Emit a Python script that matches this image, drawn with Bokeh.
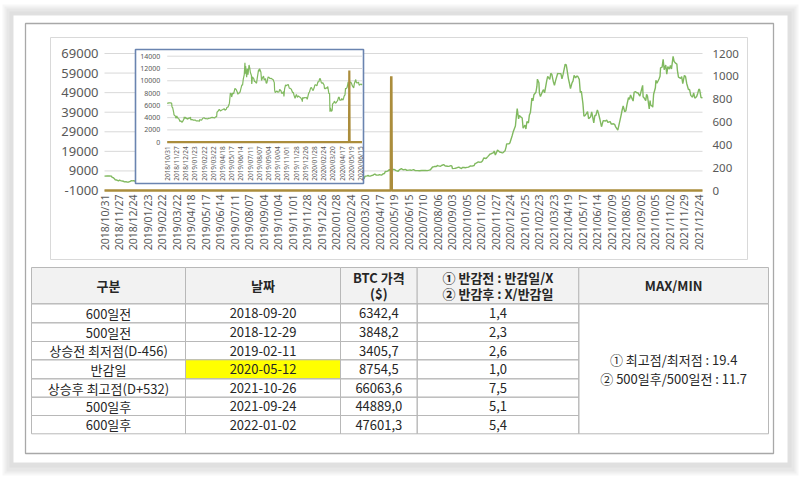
import numpy as np
import pandas as pd
from bokeh.plotting import figure
from bokeh.models import Range1d, ColumnDataSource
from bokeh.embed import file_html
from bokeh.resources import INLINE
from bokeh.core.properties import value

# ---------------- data ----------------
x_tick_labels = ["2018/10/31", "2018/11/27", "2018/12/24", "2019/01/23", "2019/02/22", "2019/03/22",
                 "2019/04/18", "2019/05/17", "2019/06/14", "2019/07/11", "2019/08/07", "2019/09/04",
                 "2019/10/04", "2019/11/01", "2019/11/28", "2019/12/26", "2020/01/28", "2020/02/24",
                 "2020/03/20", "2020/04/17", "2020/05/19", "2020/06/15", "2020/07/10", "2020/08/06",
                 "2020/09/03", "2020/10/05", "2020/11/02", "2020/11/27", "2020/12/24", "2021/01/25",
                 "2021/02/23", "2021/03/23", "2021/04/19", "2021/05/17", "2021/06/14", "2021/07/09",
                 "2021/08/05", "2021/09/02", "2021/10/05", "2021/11/02", "2021/11/29", "2021/12/24"]
inset_tick_count = 22
y_ticks_left = [-1000, 9000, 19000, 29000, 39000, 49000, 59000, 69000]
y_ticks_right = [0, 200, 400, 600, 800, 1000, 1200]
inset_y_ticks = [0, 2000, 4000, 6000, 8000, 10000, 12000, 14000]
INSET_END = "2020-06-19"

price_dates = [
    "2018-10-31", "2018-11-05", "2018-11-09", "2018-11-13", "2018-11-14", "2018-11-16", "2018-11-19",
    "2018-11-20", "2018-11-22", "2018-11-23", "2018-11-26", "2018-11-28", "2018-11-30", "2018-12-03",
    "2018-12-05", "2018-12-07", "2018-12-10", "2018-12-13", "2018-12-14", "2018-12-17", "2018-12-19",
    "2018-12-20", "2018-12-21", "2018-12-24", "2018-12-26", "2018-12-28", "2018-12-31",
    "2019-01-02", "2019-01-04", "2019-01-07", "2019-01-09", "2019-01-10", "2019-01-14", "2019-01-18",
    "2019-01-22", "2019-01-25", "2019-01-28", "2019-01-31", "2019-02-04", "2019-02-07", "2019-02-08",
    "2019-02-11", "2019-02-14", "2019-02-18", "2019-02-20", "2019-02-22", "2019-02-25", "2019-02-28",
    "2019-03-04", "2019-03-08", "2019-03-12", "2019-03-15", "2019-03-19", "2019-03-22", "2019-03-26",
    "2019-03-29", "2019-04-01", "2019-04-02", "2019-04-05", "2019-04-08", "2019-04-10", "2019-04-12",
    "2019-04-16", "2019-04-18", "2019-04-22", "2019-04-24", "2019-04-26", "2019-04-30", "2019-05-02",
    "2019-05-06", "2019-05-09", "2019-05-10", "2019-05-13", "2019-05-14", "2019-05-16", "2019-05-17",
    "2019-05-20", "2019-05-23", "2019-05-27", "2019-05-29", "2019-05-31", "2019-06-03", "2019-06-05",
    "2019-06-07", "2019-06-10", "2019-06-12", "2019-06-14", "2019-06-17", "2019-06-19", "2019-06-21",
    "2019-06-24", "2019-06-26", "2019-06-27", "2019-06-28", "2019-07-01", "2019-07-03", "2019-07-05",
    "2019-07-08", "2019-07-10", "2019-07-12", "2019-07-15", "2019-07-16", "2019-07-18", "2019-07-22",
    "2019-07-24", "2019-07-26", "2019-07-30", "2019-08-01", "2019-08-05", "2019-08-06", "2019-08-08",
    "2019-08-12", "2019-08-14", "2019-08-16", "2019-08-20", "2019-08-22", "2019-08-26", "2019-08-28",
    "2019-08-30", "2019-09-03", "2019-09-05", "2019-09-09", "2019-09-12", "2019-09-16", "2019-09-19",
    "2019-09-23", "2019-09-24", "2019-09-26", "2019-09-30", "2019-10-02", "2019-10-04", "2019-10-08",
    "2019-10-10", "2019-10-14", "2019-10-16", "2019-10-18", "2019-10-22", "2019-10-23", "2019-10-25",
    "2019-10-28", "2019-10-30", "2019-11-01", "2019-11-05", "2019-11-08", "2019-11-11", "2019-11-14",
    "2019-11-18", "2019-11-20", "2019-11-22", "2019-11-25", "2019-11-27", "2019-11-29", "2019-12-02",
    "2019-12-05", "2019-12-09", "2019-12-12", "2019-12-16", "2019-12-17", "2019-12-18", "2019-12-20",
    "2019-12-24", "2019-12-27", "2019-12-30",
    "2020-01-02", "2020-01-06", "2020-01-08", "2020-01-10", "2020-01-14", "2020-01-17", "2020-01-20",
    "2020-01-23", "2020-01-27", "2020-01-29", "2020-01-31", "2020-02-04", "2020-02-07", "2020-02-10",
    "2020-02-12", "2020-02-14", "2020-02-17", "2020-02-19", "2020-02-21", "2020-02-25", "2020-02-26",
    "2020-02-28", "2020-03-02", "2020-03-04", "2020-03-06", "2020-03-09", "2020-03-11", "2020-03-12",
    "2020-03-13", "2020-03-16", "2020-03-18", "2020-03-19", "2020-03-23", "2020-03-25", "2020-03-27",
    "2020-03-30", "2020-04-01", "2020-04-03", "2020-04-06", "2020-04-08", "2020-04-10", "2020-04-14",
    "2020-04-16", "2020-04-20", "2020-04-22", "2020-04-24", "2020-04-27", "2020-04-29", "2020-04-30",
    "2020-05-04", "2020-05-06", "2020-05-08", "2020-05-11", "2020-05-12", "2020-05-14", "2020-05-18",
    "2020-05-20", "2020-05-22", "2020-05-26", "2020-05-28", "2020-06-01", "2020-06-03", "2020-06-05",
    "2020-06-09", "2020-06-11", "2020-06-15", "2020-06-17", "2020-06-19", "2020-06-23", "2020-06-26",
    "2020-06-30", "2020-07-03", "2020-07-07", "2020-07-10", "2020-07-14", "2020-07-17", "2020-07-21",
    "2020-07-23", "2020-07-27", "2020-07-29", "2020-07-31", "2020-08-03", "2020-08-05", "2020-08-07",
    "2020-08-11", "2020-08-13", "2020-08-17", "2020-08-19", "2020-08-21", "2020-08-25", "2020-08-27",
    "2020-08-31", "2020-09-02", "2020-09-03", "2020-09-07", "2020-09-09", "2020-09-11", "2020-09-15",
    "2020-09-17", "2020-09-21", "2020-09-23", "2020-09-25", "2020-09-29", "2020-10-01", "2020-10-05",
    "2020-10-08", "2020-10-12", "2020-10-15", "2020-10-19", "2020-10-21", "2020-10-23", "2020-10-27",
    "2020-10-29", "2020-11-02", "2020-11-04", "2020-11-06", "2020-11-10", "2020-11-13", "2020-11-17",
    "2020-11-19", "2020-11-23", "2020-11-24", "2020-11-26", "2020-11-30", "2020-12-02", "2020-12-04",
    "2020-12-08", "2020-12-10", "2020-12-14", "2020-12-16", "2020-12-17", "2020-12-21", "2020-12-23",
    "2020-12-28", "2020-12-30",
    "2021-01-04", "2021-01-06", "2021-01-08", "2021-01-11", "2021-01-13", "2021-01-15", "2021-01-19",
    "2021-01-21", "2021-01-25", "2021-01-27", "2021-01-29", "2021-02-01", "2021-02-03", "2021-02-05",
    "2021-02-08", "2021-02-10", "2021-02-12", "2021-02-16", "2021-02-18", "2021-02-19", "2021-02-22",
    "2021-02-23", "2021-02-25", "2021-03-01", "2021-03-03", "2021-03-05", "2021-03-09", "2021-03-11",
    "2021-03-15", "2021-03-17", "2021-03-19", "2021-03-22", "2021-03-24", "2021-03-26", "2021-03-30",
    "2021-04-01", "2021-04-05", "2021-04-07", "2021-04-09", "2021-04-13", "2021-04-15", "2021-04-16",
    "2021-04-19", "2021-04-21", "2021-04-23", "2021-04-26", "2021-04-28", "2021-04-30", "2021-05-03",
    "2021-05-05", "2021-05-07", "2021-05-10", "2021-05-12", "2021-05-14", "2021-05-17", "2021-05-19",
    "2021-05-21", "2021-05-24", "2021-05-26", "2021-05-28", "2021-06-01", "2021-06-03", "2021-06-07",
    "2021-06-09", "2021-06-11", "2021-06-14", "2021-06-16", "2021-06-18", "2021-06-21", "2021-06-22",
    "2021-06-24", "2021-06-28", "2021-06-30", "2021-07-02", "2021-07-06", "2021-07-08", "2021-07-12",
    "2021-07-14", "2021-07-16", "2021-07-20", "2021-07-22", "2021-07-26", "2021-07-28", "2021-07-30",
    "2021-08-02", "2021-08-04", "2021-08-06", "2021-08-09", "2021-08-11", "2021-08-13", "2021-08-16",
    "2021-08-18", "2021-08-20", "2021-08-23", "2021-08-25", "2021-08-27", "2021-08-31", "2021-09-02",
    "2021-09-06", "2021-09-07", "2021-09-09", "2021-09-13", "2021-09-15", "2021-09-17", "2021-09-21",
    "2021-09-23", "2021-09-24", "2021-09-27", "2021-09-29", "2021-10-01", "2021-10-05", "2021-10-06",
    "2021-10-08", "2021-10-12", "2021-10-14", "2021-10-15", "2021-10-18", "2021-10-20", "2021-10-22",
    "2021-10-25", "2021-10-27", "2021-10-29", "2021-11-01", "2021-11-03", "2021-11-05", "2021-11-08",
    "2021-11-10", "2021-11-12", "2021-11-15", "2021-11-16", "2021-11-18", "2021-11-22", "2021-11-24",
    "2021-11-26", "2021-11-29", "2021-12-01", "2021-12-03", "2021-12-06", "2021-12-08", "2021-12-10",
    "2021-12-13", "2021-12-15", "2021-12-17", "2021-12-20", "2021-12-22", "2021-12-24", "2021-12-27",
    "2021-12-29", "2021-12-31"]

price_values = [
    6320, 6410, 6400, 6370, 5740, 5610, 4870,
    4450, 4350, 4330, 3880, 4270, 4020, 3820,
    3760, 3390, 3470, 3270, 3240, 3550, 3750,
    4130, 3900, 4070, 3820, 3890, 3740,
    3940, 3860, 4010, 4030, 3630, 3690, 3600,
    3600, 3590, 3450, 3460, 3460, 3400, 3670,
    3610, 3600, 3900, 3950, 3990, 3830, 3850,
    3770, 3880, 3900, 3990, 4030, 4000, 3940,
    4110, 4150, 4880, 5040, 5290, 5300, 5070,
    5230, 5280, 5400, 5460, 5200, 5350, 5640,
    5750, 6170, 6360, 8000, 7950, 7880, 7360,
    8000, 7880, 8740, 8660, 8550, 8180, 7790,
    8000, 8030, 8230, 8690, 9330, 9270, 10210,
    11020, 12930, 11160, 12400, 10580, 11960, 10980,
    12570, 12100, 11350, 10860, 9470, 10640, 10330,
    9880, 9850, 9590, 10400, 11800, 11480, 11980,
    11390, 10050, 10390, 10760, 10130, 10360, 9590,
    9630, 10620, 10580, 10340, 10410, 10270, 10200,
    9700, 8530, 8060, 8290, 8340, 8150, 8200,
    8590, 8370, 7990, 7950, 8220, 7430, 8660,
    9330, 9170, 9260, 9410, 8800, 8760, 8630,
    8040, 8120, 7630, 7150, 7520, 7760, 7300,
    7550, 7340, 7240, 6880, 6610, 7280, 7150,
    7250, 7240, 7290,
    6990, 7770, 8080, 8150, 8810, 8900, 8630,
    8400, 8900, 9300, 9350, 9180, 9810, 9850,
    10330, 10360, 9700, 9600, 9700, 9320, 8790,
    8670, 8900, 8760, 9070, 7930, 7910, 4970,
    5560, 5010, 5220, 6190, 6490, 6680, 6370,
    6430, 6640, 6730, 7280, 7340, 6860, 6840,
    7100, 6840, 7130, 7500, 7700, 8800, 8660,
    8900, 9270, 9810, 8600, 8754, 9790, 9730,
    9520, 9170, 8840, 9580, 10200, 9670, 9630,
    9780, 9280, 9430, 9460, 9300, 9630, 9150,
    9140, 9080, 9250, 9270, 9250, 9150, 9390,
    9600, 11020, 11100, 11350, 11230, 11750, 11600,
    11400, 11770, 12250, 11750, 11500, 11360, 11330,
    11680, 11400, 10180, 10280, 10340, 10450, 10800,
    10950, 10420, 10240, 10740, 10840, 10620, 10790,
    10930, 11550, 11430, 11760, 12850, 13030, 13650,
    13460, 13550, 14150, 15580, 15330, 16320, 17650,
    17800, 18400, 19170, 17150, 19630, 19200, 18660,
    18320, 18250, 19270, 21310, 22810, 22800, 23240,
    27080, 28860,
    31970, 36770, 40800, 35570, 37320, 36770, 36070,
    30800, 32370, 30430, 34270, 33540, 37620, 38900,
    46200, 44800, 47900, 49200, 52150, 55900, 54000,
    48800, 47000, 49600, 50500, 48900, 54900, 57300,
    55800, 58900, 58300, 54500, 52800, 55000, 58800,
    58700, 58700, 56000, 58200, 63500, 63200, 61500,
    56200, 53800, 51100, 54000, 55000, 57800, 56600,
    57400, 57400, 55800, 49100, 49700, 43500, 37000,
    37300, 38400, 39300, 35700, 36700, 39200, 33600,
    37300, 37300, 40200, 38300, 35800, 31600, 32500,
    34700, 34500, 35000, 33800, 34200, 32900, 33100,
    32800, 31500, 29800, 32300, 37300, 40000, 42200,
    39200, 39700, 42800, 46400, 45600, 47800, 45900,
    44700, 49300, 49500, 48900, 49000, 47200, 49300,
    52700, 46900, 46400, 44900, 48100, 47300, 40700,
    44900, 42800, 42200, 41600, 48200, 51500, 55300,
    53800, 56000, 57400, 61700, 62000, 65990, 60700,
    63100, 58500, 62300, 61000, 62900, 61100, 67500,
    64900, 64200, 63600, 60400, 56900, 56300, 57200,
    53600, 57800, 57200, 53700, 50600, 50600, 47600,
    46700, 48900, 46200, 46900, 48600, 50800, 50600,
    46500, 46300]

halving_dates = ["2018-10-31", "2020-05-11", "2020-05-12", "2020-05-13", "2021-12-31"]
halving_values = [0, 0, 1000, 0, 0]

table_header = ["구분", "날짜", "BTC 가격", "($)", "① 반감전 : 반감일/X", "② 반감후 : X/반감일", "MAX/MIN"]
table_names = ["600일전", "500일전", "상승전 최저점(D-456)", "반감일", "상승후 최고점(D+532)", "500일후", "600일후"]
table_dates = ["2018-09-20", "2018-12-29", "2019-02-11", "2020-05-12", "2021-10-26", "2021-09-24", "2022-01-02"]
table_prices = [6342.4, 3848.2, 3405.7, 8754.5, 66063.6, 44889.0, 47601.3]
table_ratios = [1.4, 2.3, 2.6, 1.0, 7.5, 5.1, 5.4]
table_maxmin = ["① 최고점/최저점 : 19.4", "② 500일후/500일전 : 11.7"]
highlight_row = 3

# ---------------- geometry (canvas pixels) ----------------
W, H = 800, 477
FL, FR, FT, FB = 104, 702, 53, 190            # main plot area
IL, IR, IT, IBT = 166.7, 361.5, 55.7, 141.7   # inset plot area
INSET_BOX = (135, 363, 49, 183)
COLS = [31, 185, 340, 416.7, 578.3, 768]
ROWS = [267, 303.3, 322.3, 341, 359.3, 378.3, 396.7, 415, 433.3]

GREEN = "#80b95f"
BROWN = "#ab8d3c"
LABEL = "#595959"
GRID = "#d9d9d9"
KFONT = "Noto Sans CJK KR"
AFONT = "Noto Sans"

# ---------------- category index of each date ----------------
tick_d = pd.to_datetime(x_tick_labels, format="%Y/%m/%d").values.astype("datetime64[D]")
tick_pos = np.arange(len(x_tick_labels)) * 20.0


def to_idx(dates):
    d = pd.to_datetime(dates).values.astype("datetime64[D]")
    o = d.astype(np.int64)
    idx = np.interp(o, tick_d.astype(np.int64), tick_pos)
    after = o > tick_d[-1].astype(np.int64)
    if after.any():
        idx[after] = tick_pos[-1] + np.busday_count(tick_d[-1], d[after])
    return idx


px = to_idx(price_dates)
pv = np.array(price_values, dtype=float)
hx = to_idx(halving_dates)
hv = np.array(halving_values, dtype=float)
n_last = float(px[-1])
inset_end = float(to_idx([INSET_END])[0])


def rng_x(v0, v1, p0, p1):
    """Range over the whole canvas width so that value v0 sits at pixel p0 and v1 at p1."""
    k = (v1 - v0) / (p1 - p0)
    return Range1d(v0 - p0 * k, v1 + (W - p1) * k)


def rng_y(v0, v1, p0, p1):
    """Range over the whole canvas height; value v0 at pixel row p0, v1 at pixel row p1."""
    k = (v1 - v0) / (p0 - p1)
    return Range1d(v0 - (H - p0) * k, v1 + p1 * k)


# ---------------- figure (frame = whole canvas, canvas-pixel default ranges) ----------------
p = figure(width=W, height=H, output_backend="svg", toolbar_location=None,
           x_range=Range1d(0, W), y_range=Range1d(H, 0),
           x_axis_location=None, y_axis_location=None, min_border=0)
p.outline_line_color = None
p.background_fill_color = "white"
p.border_fill_color = "white"
p.grid.visible = False

p.extra_x_ranges = {"mx": rng_x(0, n_last, FL, FR),
                    "ix": rng_x(0, inset_end, IL, IR)}
p.extra_y_ranges = {"my": rng_y(y_ticks_left[0], y_ticks_left[-1], FB, FT),
                    "my2": rng_y(y_ticks_right[0], y_ticks_right[-1], FB, FT),
                    "iy": rng_y(inset_y_ticks[0], inset_y_ticks[-1], IBT, IT),
                    "iy2": rng_y(y_ticks_right[0], y_ticks_right[-1], IBT, IT)}


def box(l, r, t, b, fill=None, line=None, lw=1):
    p.quad(left=[l], right=[r], top=[t], bottom=[b], fill_color=fill, fill_alpha=1 if fill else 0,
           line_color=line, line_width=lw, line_alpha=1 if line else 0)


# outer picture frame with soft shadow
for (l, t, r, b, c) in [(2, 4, 798, 475, "#f7f7f7"), (4, 6, 796, 473, "#efefef"),
                        (6, 8, 794, 471, "#e7e7e7"), (9, 11, 791, 467, "#e0e0e0"),
                        (13, 15, 787, 462, "#ffffff")]:
    box(l, r, t, b, fill=c)
box(25, 773, 23, 453, line="#a8a8a8", lw=1.3)
box(50, 747, 37, 259, line="#d9d9d9", lw=1)

# ---------------- main chart ----------------
nL = len(y_ticks_left)
p.segment(x0=[0] * nL, x1=[n_last] * nL, y0=y_ticks_left, y1=y_ticks_left,
          x_range_name="mx", y_range_name="my", line_color=GRID, line_width=1)
p.line(px, pv, x_range_name="mx", y_range_name="my", line_color=GREEN, line_width=1.4)
p.line(hx, hv, x_range_name="mx", y_range_name="my2", line_color=BROWN, line_width=2.6)

# axis labels
p.text(x=[0] * nL, y=y_ticks_left, text=[str(v) for v in y_ticks_left], x_range_name="mx", y_range_name="my",
       text_align="right", text_baseline="middle", x_offset=-6, text_font=value(AFONT),
       text_font_size="13px", text_color=LABEL)
nR = len(y_ticks_right)
p.text(x=[n_last] * nR, y=y_ticks_right, text=[str(v) for v in y_ticks_right], x_range_name="mx",
       y_range_name="my2", text_align="left", text_baseline="middle", x_offset=10,
       text_font=value(AFONT), text_font_size="11.5px", text_color=LABEL)
nX = len(x_tick_labels)
p.text(x=list(tick_pos), y=[y_ticks_left[0]] * nX, text=x_tick_labels, x_range_name="mx", y_range_name="my",
       angle=np.pi / 2, text_align="right", text_baseline="middle", y_offset=4,
       text_font=value(AFONT), text_font_size="10.5px", text_color=LABEL)

# ---------------- inset chart ----------------
box(INSET_BOX[0], INSET_BOX[1], INSET_BOX[2], INSET_BOX[3], fill="white", line="#6a84b0", lw=1.6)
nI = len(inset_y_ticks)
p.segment(x0=[0] * nI, x1=[inset_end] * nI, y0=inset_y_ticks, y1=inset_y_ticks,
          x_range_name="ix", y_range_name="iy", line_color=GRID, line_width=1)
m = px <= inset_end
p.line(px[m], pv[m], x_range_name="ix", y_range_name="iy", line_color=GREEN, line_width=1.2)
hm = hx <= inset_end
ihx = list(hx[hm]) + [inset_end]
ihv = list(hv[hm]) + [0]
p.line(ihx, ihv, x_range_name="ix", y_range_name="iy2", line_color=BROWN, line_width=2.2)

p.text(x=list(tick_pos[:inset_tick_count]), y=[0] * inset_tick_count, text=x_tick_labels[:inset_tick_count],
       x_range_name="ix", y_range_name="iy", angle=np.pi / 2, text_align="right", text_baseline="middle",
       y_offset=4, text_font=value(AFONT), text_font_size="6.5px", text_color=LABEL)
p.text(x=[0] * nI, y=inset_y_ticks, text=[str(v) for v in inset_y_ticks], x_range_name="ix", y_range_name="iy",
       text_align="right", text_baseline="middle", x_offset=-7, text_font=value(AFONT),
       text_font_size="7px", text_color=LABEL)

# ---------------- table ----------------
TL = "#b8b8b8"
for j in range(5):
    box(COLS[j], COLS[j + 1], ROWS[0], ROWS[1], fill="#f2f2f2", line=TL)
for i in range(7):
    for j in range(4):
        fc = "#ffff00" if (i == highlight_row and j == 1) else None
        box(COLS[j], COLS[j + 1], ROWS[i + 1], ROWS[i + 2], fill=fc, line=TL)
box(COLS[4], COLS[5], ROWS[1], ROWS[8], line=TL)

cc = [(COLS[j] + COLS[j + 1]) / 2 for j in range(5)]
hy = (ROWS[0] + ROWS[1]) / 2
rc = [(ROWS[i + 1] + ROWS[i + 2]) / 2 for i in range(7)]
my = (ROWS[1] + ROWS[8]) / 2

head = ColumnDataSource(dict(
    x=[cc[0], cc[1], cc[2], cc[2], cc[3], cc[3], cc[4]],
    y=[hy, hy, hy - 8, hy + 8, hy - 8, hy + 8, hy],
    t=table_header))
p.text(x="x", y="y", text="t", source=head, text_align="center", text_baseline="middle",
       text_font=value(KFONT), text_font_size="13px", text_font_style="bold", text_color="#262626")

body_x, body_y, body_t = [], [], []
for i in range(7):
    body_x += cc[:4]
    body_y += [rc[i]] * 4
    body_t += [table_names[i], table_dates[i],
               f"{table_prices[i]:.1f}".replace(".", ","), f"{table_ratios[i]:.1f}".replace(".", ",")]
body_x += [cc[4], cc[4]]
body_y += [my - 9, my + 9.5]
body_t += table_maxmin
body = ColumnDataSource(dict(x=body_x, y=body_y, t=body_t))
p.text(x="x", y="y", text="t", source=body, text_align="center", text_baseline="middle",
       text_font=value(KFONT), text_font_size="13px", text_color="#262626")

open("out.html", "w").write(file_html(p, INLINE))
